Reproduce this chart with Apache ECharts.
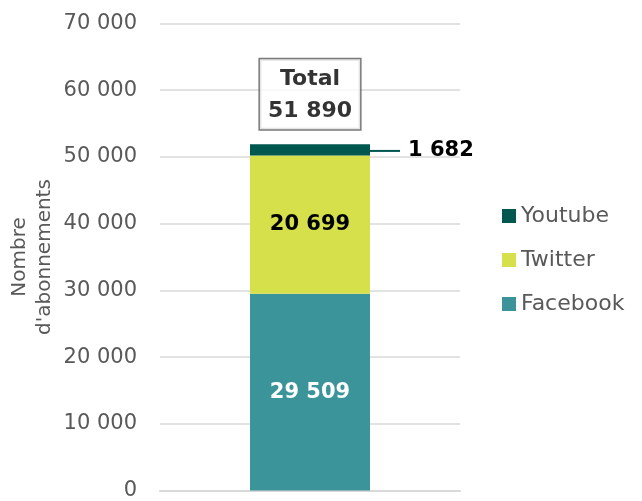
<!DOCTYPE html>
<html><head><meta charset="utf-8">
<script src="https://cdn.jsdelivr.net/npm/echarts@6/dist/echarts.min.js"></script>
<style>html,body{margin:0;padding:0;background:#fff}#c{width:642px;height:501px}</style>
</head><body><div id="c"></div>
<script>
const categories = [''];
const facebook = [29509];
const twitter = [20699];
const youtube = [1682];
const total = [51890];
const yTicks = [0, 10000, 20000, 30000, 40000, 50000, 60000, 70000];

const fmt = v => String(v).replace(/\B(?=(\d{3})+(?!\d))/g, ' ');
const FONT = 'DejaVu Sans';
const chart = echarts.init(document.getElementById('c'));
chart.setOption({
  animation: false,
  textStyle: { fontFamily: FONT },
  grid: { left: 160, right: 182, top: 23.5, bottom: 7.5 },
  legend: {
    orient: 'vertical', left: 497, top: 200,
    data: ['Youtube', 'Twitter', 'Facebook'],
    itemWidth: 14, itemHeight: 14, itemGap: 22,
    icon: 'rect',
    textStyle: { color: '#595959', fontSize: 22, fontFamily: FONT, padding: [0, 0, 0, 0] }
  },
  xAxis: {
    type: 'category', data: categories,
    axisLine: { lineStyle: { color: '#d9d9d9', width: 2 } },
    axisTick: { show: false }, axisLabel: { show: false }
  },
  yAxis: {
    type: 'value', min: yTicks[0], max: yTicks[yTicks.length - 1], interval: 10000,
    name: "Nombre\nd'abonnements", nameLocation: 'middle', nameGap: 103, nameRotate: 90,
    nameTextStyle: { color: '#595959', fontSize: 20, lineHeight: 25, fontFamily: FONT },
    axisLine: { show: false }, axisTick: { show: false },
    axisLabel: { color: '#595959', fontSize: 21, margin: 23, formatter: v => fmt(v) },
    splitLine: { lineStyle: { color: '#d9d9d9', width: 1.5 } }
  },
  series: [
    {
      name: 'Facebook', type: 'bar', stack: 's', data: facebook, barWidth: '40%',
      itemStyle: { color: '#3A9499' },
      label: { show: true, position: 'inside', color: '#fff', fontWeight: 'bold', fontSize: 21, formatter: p => fmt(p.value) }
    },
    {
      name: 'Twitter', type: 'bar', stack: 's', data: twitter,
      itemStyle: { color: '#D5E04B' },
      label: { show: true, position: 'inside', color: '#000', fontWeight: 'bold', fontSize: 21, formatter: p => fmt(p.value) }
    },
    {
      name: 'Youtube', type: 'bar', stack: 's', data: youtube,
      itemStyle: { color: '#00574F' },
      label: {
        show: true, position: 'right', distance: 0, offset: [0, 1],
        formatter: p => '{l|}{v|' + fmt(p.value) + '}',
        rich: {
          l: { width: 30, height: 2, backgroundColor: '#00574F', verticalAlign: 'middle' },
          v: { color: '#000', fontWeight: 'bold', fontSize: 21, fontFamily: FONT, padding: [0, 0, 0, 8], verticalAlign: 'middle' }
        }
      }
    },
    {
      name: 'Total', type: 'scatter', data: total, symbolSize: 0, silent: true,
      label: {
        show: true, position: 'top', distance: 15,
        formatter: p => '{t|Total\n' + fmt(p.value) + '}',
        rich: { t: { color: '#000', fontWeight: 'bold', fontSize: 22, lineHeight: 32, fontFamily: FONT, align: 'center' } },
        borderColor: '#595959', borderWidth: 1.5, backgroundColor: '#fff',
        padding: [4, 8, 2, 8]
      }
    }
  ]
});
</script></body></html>
